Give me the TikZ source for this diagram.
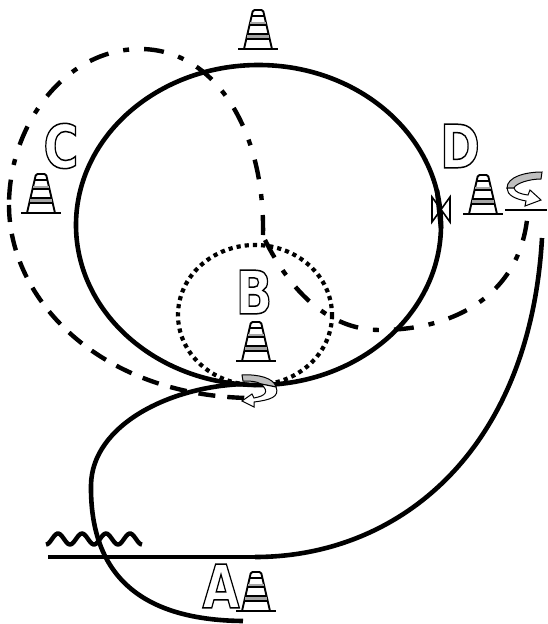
\documentclass[tikz,border=0pt]{standalone}
\usepackage{fontspec}
\newfontfamily\signfont[BoldFont=DejaVu Sans Bold]{DejaVu Sans}
\usepackage{tikz}
\tikzset{
  track/.style={line width=4.6pt},
  dashdotline/.style={line width=4.4pt,dash pattern=on 20pt off 15pt on 6pt off 15pt},
  dashline/.style={line width=4.4pt,dash pattern=on 17pt off 12pt},
  dotline/.style={line width=4.2pt,dash pattern=on 4.2pt off 4pt},
  letter/.style={font=\signfont\bfseries\fontsize{60}{60}\selectfont,inner sep=0pt,xscale=.8,transform shape},
  swirl/.style={draw,line width=1pt,fill=black!25},
  swirlhead/.style={draw,line width=1pt,fill=white},
  pics/cone/.style={code={
    \draw[line width=1.9pt,fill=white,rounded corners=1.5pt] (-14,0) -- (-5,-39) -- (5,-39) -- (14,0);
    \fill[black!35] (-11,-14) rectangle (11,-11);
    \fill[black!35] (-8,-27) rectangle (8,-25);
    \draw[line width=1.1pt] (-11.8,-10) -- (11.8,-10) (-10.8,-15) -- (10.8,-15) (-8.6,-24) -- (8.6,-24) (-6.6,-33) -- (6.6,-33);
    \draw[line width=2.4pt] (-20,0) -- (20,0);
  }}
}
\newcommand{\outlined}[1]{\special{pdf:code q 1 Tr 1.5 w}#1\special{pdf:code Q}}
\begin{document}
\begin{tikzpicture}[x=1pt,y=-1pt]
  \useasboundingbox (0,0) rectangle (547,624);

  \draw[track] (258.5,225) ellipse [x radius=182.5,y radius=160];
  \draw[dotline] (255,315) ellipse [x radius=77,y radius=70];

  % lap out to the left
  \draw[dashdotline] (263,235) .. controls (265,130) and (215,49) .. (140,49) .. controls (65,49) and (9,125) .. (9,205);
  \draw[dashline] (9,205) .. controls (9,300) and (100,395) .. (248,398);
  % lap out to the right
  \draw[dashdotline] (265,240) .. controls (295,300) and (335,330) .. (380,330) .. controls (460,330) and (525,290) .. (528,207);

  % road
  \draw[track] (48,557) -- (255,557);
  \draw[track] (255,557) .. controls (400,557) and (530,450) .. (542,238);
  \draw[track] (245,384) .. controls (170,386) and (92,425) .. (91,485) .. controls (90,570) and (135,620) .. (243,621);
  \draw[line width=1.8pt] (505,210) -- (547,210);

  % rough water
  \draw[line width=4.4pt] plot[smooth,domain=46:142,samples=70] (\x,{539+5.5*cos(15*(\x-46))});

  % valve
  \draw[line width=1.6pt,fill=white] (432,197) -- (450,222) -- (450,197) -- (432,222) -- cycle;
  \draw[line width=4.6pt] (437,190) -- (441,228);

  \pic (conetop) at (258,49) {cone};
  \pic (conec) at (41,213) {cone};
  \pic (coned) at (483,214) {cone};
  \pic (coneb) at (256,361) {cone};
  \pic (conea) at (256,611) {cone};

  \node[letter] (a) at (221,586) {\outlined{A}};
  \node[letter] (b) at (254,292) {\outlined{B}};
  \node[letter] (c) at (61,146) {\outlined{C}};
  \node[letter] (d) at (460,146) {\outlined{D}};

  % turns
  \path[swirl] (242,375) .. controls (258,374) and (274,378) .. (276,387) -- (261,384) .. controls (256,381) and (250,381) .. (243,381) -- cycle;
  \path[swirlhead] (276,387) .. controls (280,397) and (270,400) .. (254,402) -- (254,407) -- (242,401) -- (252,394) -- (254,398) .. controls (265,396) and (270,392) .. (261,384) -- cycle;
  \path[swirl] (542,172) .. controls (525,172) and (507,177) .. (507,188) -- (514,188) .. controls (516,183) and (530,179) .. (541,179) -- cycle;
  \path[swirlhead] (507,188) .. controls (507,195) and (515,199) .. (526,201) -- (525,206) -- (541,200) -- (530,190) -- (528,195) .. controls (520,194) and (515,192) .. (514,188) -- cycle;
\end{tikzpicture}
\end{document}
